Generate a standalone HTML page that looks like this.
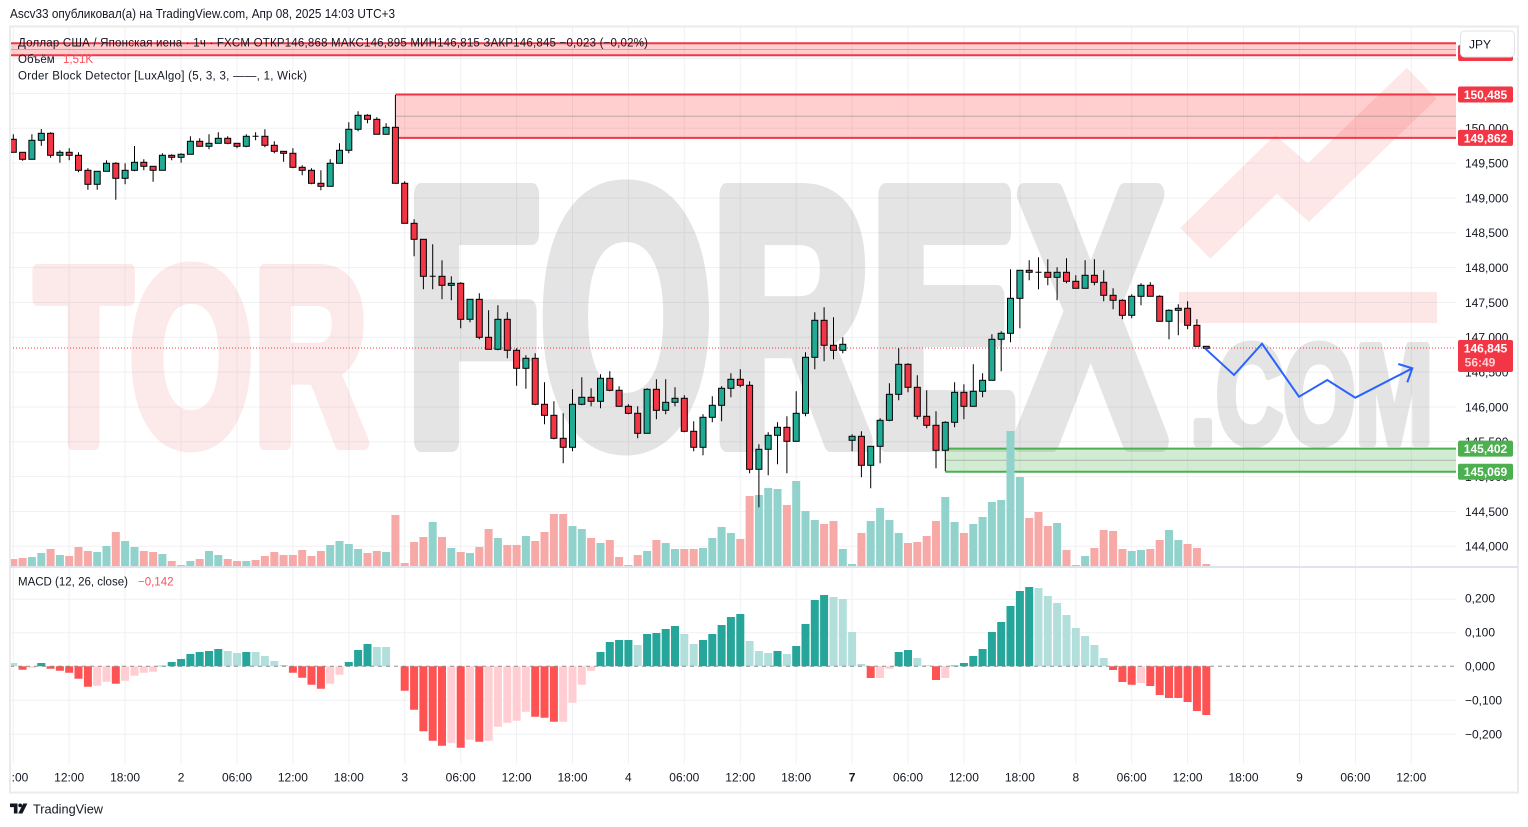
<!DOCTYPE html>
<html><head><meta charset="utf-8"><style>
html,body{margin:0;padding:0;background:#fff;}
svg{display:block;font-family:"Liberation Sans","DejaVu Sans",sans-serif;}
.ax{font-size:12px;fill:#131722;}
.tl{font-size:12px;fill:#131722;text-anchor:middle;}
.lb{font-size:12px;font-weight:bold;fill:#fff;text-anchor:middle;}
.cr{fill:#f23645;}
.cg{fill:#22ab94;}
</style></head><body>
<svg width="1528" height="827" viewBox="0 0 1528 827" xmlns="http://www.w3.org/2000/svg">
<defs><clipPath id="cp"><rect x="10" y="27" width="1446" height="540"/></clipPath>
<clipPath id="cm"><rect x="10" y="568" width="1446" height="196"/></clipPath>
<clipPath id="ct"><rect x="11.5" y="765" width="1506" height="27"/></clipPath></defs>
<rect width="1528" height="827" fill="#fff"/>
<text x="10" y="18" font-size="12.5" fill="#131722" textLength="385" lengthAdjust="spacingAndGlyphs">Ascv33 опубликовал(а) на TradingView.com, Апр 08, 2025 14:03 UTC+3</text>

<!-- grid -->
<g stroke="#f0f1f4" stroke-width="1">
<path d="M10 58.6H1456M10 93.5H1456M10 128.3H1456M10 163.1H1456M10 198H1456M10 232.8H1456M10 267.6H1456M10 302.5H1456M10 337.3H1456M10 372.1H1456M10 407H1456M10 441.8H1456M10 476.6H1456M10 511.5H1456M10 546.3H1456"/>
<path d="M10 599.3H1456M10 632.7H1456M10 700.3H1456M10 734.3H1456"/>
<path d="M13.3 27V764M69.2 27V764M125.1 27V764M181.1 27V764M237 27V764M292.9 27V764M348.8 27V764M404.7 27V764M460.7 27V764M516.6 27V764M572.5 27V764M628.4 27V764M684.3 27V764M740.3 27V764M796.2 27V764M852.1 27V764M908 27V764M963.9 27V764M1019.9 27V764M1075.8 27V764M1131.7 27V764M1187.6 27V764M1243.5 27V764M1299.5 27V764M1355.4 27V764M1411.3 27V764"/>
</g>

<!-- watermark -->
<g clip-path="url(#cp)" font-weight="bold">
<g opacity="0.1">
<text x="35" y="443" font-size="250" fill="#e63c3c" stroke="#e63c3c" stroke-width="14" stroke-linejoin="round" textLength="333" lengthAdjust="spacingAndGlyphs">TOR</text>
</g>
<g opacity="0.1">
<text x="406" y="441" font-size="359" fill="#000" stroke="#000" stroke-width="22" stroke-linejoin="round" textLength="758" lengthAdjust="spacingAndGlyphs">FOREX</text>
<text x="1190" y="443" font-size="141" fill="#000" stroke="#000" stroke-width="8" stroke-linejoin="round" textLength="243" lengthAdjust="spacingAndGlyphs">.COM</text>
</g>
<g opacity="0.12">
<polyline points="1195.3,243.3 1276,164.3 1308.3,192.7 1421.7,83.3" fill="none" stroke="#eb3c3c" stroke-width="43" stroke-linejoin="miter" stroke-miterlimit="4"/>
<rect x="1179" y="292" width="258" height="31" fill="#eb3c3c"/>
</g>
</g>

<!-- order blocks -->
<g clip-path="url(#cp)">
<rect x="10" y="43.3" width="1446" height="12" fill="rgba(255,59,59,0.25)"/>
<path d="M10 49.5H1456" stroke="rgba(120,120,120,0.45)" stroke-width="1"/>
<path d="M10 43.3H1456M10 55.3H1456" stroke="#f23645" stroke-width="2"/>
<rect x="395.4" y="94.5" width="1060.6" height="43.4" fill="rgba(255,59,59,0.25)"/>
<path d="M395.4 116.2H1456" stroke="rgba(120,120,120,0.45)" stroke-width="1"/>
<path d="M395.4 94.5H1456M395.4 137.9H1456" stroke="#f23645" stroke-width="2"/>
<rect x="945.3" y="448.6" width="510.7" height="23.2" fill="rgba(76,175,80,0.25)"/>
<path d="M945.3 460.2H1456" stroke="rgba(120,120,120,0.45)" stroke-width="1"/>
<path d="M945.3 448.6H1456M945.3 471.8H1456" stroke="#4caf50" stroke-width="2"/>
</g>

<!-- volume -->
<g clip-path="url(#cp)">
<path fill="#f7a9a7" d="M9.3 559h8V566h-8zM18.6 558h8V566h-8zM46.6 549h8V566h-8zM65.2 556h8V566h-8zM74.5 547h8V566h-8zM83.9 551h8V566h-8zM111.8 532h8V566h-8zM139.8 551h8V566h-8zM149.1 552h8V566h-8zM167.7 561h8V566h-8zM195.7 559h8V566h-8zM223.7 559h8V566h-8zM233 561h8V566h-8zM251.6 560h8V566h-8zM260.9 556h8V566h-8zM270.3 552h8V566h-8zM279.6 555h8V566h-8zM288.9 555h8V566h-8zM298.2 550h8V566h-8zM307.5 556h8V566h-8zM316.9 551h8V566h-8zM363.5 553h8V566h-8zM372.8 551h8V566h-8zM391.4 515h8V566h-8zM400.7 563h8V566h-8zM410.1 542h8V566h-8zM419.4 537h8V566h-8zM438 537h8V566h-8zM456.7 552h8V566h-8zM475.3 547h8V566h-8zM484.6 529h8V566h-8zM503.3 545h8V566h-8zM512.6 545h8V566h-8zM531.2 541h8V566h-8zM540.5 532h8V566h-8zM549.9 514h8V566h-8zM559.2 514h8V566h-8zM587.1 538h8V566h-8zM605.8 540h8V566h-8zM615.1 557h8V566h-8zM624.4 565h8V566h-8zM633.7 555h8V566h-8zM652.4 540h8V566h-8zM680.3 549h8V566h-8zM689.7 549h8V566h-8zM736.3 539h8V566h-8zM745.6 496h8V566h-8zM782.9 505h8V566h-8zM820.1 524h8V566h-8zM829.5 521h8V566h-8zM857.4 533h8V566h-8zM904 543h8V566h-8zM913.3 542h8V566h-8zM922.7 536h8V566h-8zM932 521h8V566h-8zM959.9 533h8V566h-8zM1025.2 518h8V566h-8zM1034.5 512h8V566h-8zM1043.8 526h8V566h-8zM1062.5 550h8V566h-8zM1071.8 565h8V566h-8zM1090.4 548h8V566h-8zM1099.7 530h8V566h-8zM1109.1 531h8V566h-8zM1118.4 549h8V566h-8zM1146.3 549h8V566h-8zM1155.7 540h8V566h-8zM1183.6 544h8V566h-8zM1192.9 548h8V566h-8zM1202.3 564h8V566h-8z"/>
<path fill="#92d2cc" d="M27.9 557h8V566h-8zM37.3 553h8V566h-8zM55.9 555h8V566h-8zM93.2 552h8V566h-8zM102.5 546h8V566h-8zM121.1 541h8V566h-8zM130.5 547h8V566h-8zM158.4 554h8V566h-8zM177.1 565h8V566h-8zM186.4 561h8V566h-8zM205 551h8V566h-8zM214.3 555h8V566h-8zM242.3 561h8V566h-8zM326.2 545h8V566h-8zM335.5 541h8V566h-8zM344.8 544h8V566h-8zM354.1 549h8V566h-8zM382.1 552h8V566h-8zM428.7 522h8V566h-8zM447.3 548h8V566h-8zM466 553h8V566h-8zM493.9 538h8V566h-8zM521.9 536h8V566h-8zM568.5 526h8V566h-8zM577.8 529h8V566h-8zM596.5 543h8V566h-8zM643.1 551h8V566h-8zM661.7 543h8V566h-8zM671 549h8V566h-8zM699 548h8V566h-8zM708.3 538h8V566h-8zM717.6 527h8V566h-8zM726.9 533h8V566h-8zM754.9 495h8V566h-8zM764.2 488h8V566h-8zM773.5 489h8V566h-8zM792.2 481h8V566h-8zM801.5 511h8V566h-8zM810.8 520h8V566h-8zM838.8 549h8V566h-8zM848.1 564h8V566h-8zM866.7 521h8V566h-8zM876.1 508h8V566h-8zM885.4 520h8V566h-8zM894.7 533h8V566h-8zM941.3 497h8V566h-8zM950.6 522h8V566h-8zM969.3 524h8V566h-8zM978.6 517h8V566h-8zM987.9 502h8V566h-8zM997.2 500h8V566h-8zM1006.5 431h8V566h-8zM1015.9 477h8V566h-8zM1053.1 523h8V566h-8zM1081.1 556h8V566h-8zM1127.7 551h8V566h-8zM1137 550h8V566h-8zM1165 530h8V566h-8zM1174.3 540h8V566h-8z"/>
</g>

<!-- current price line -->
<path d="M10 348H1456" stroke="#f23645" stroke-width="1" stroke-dasharray="1 2"/>

<!-- candles -->
<g clip-path="url(#cp)">
<path fill="none" stroke="#000" stroke-width="1" d="M13.3 134.3V152.3M22.6 152.3V160.7M31.9 134.3V159.3M41.3 129V145.7M50.6 132.3V157.7M59.9 150.3V162.7M69.2 148.3V160.3M78.5 152.3V172.3M87.9 168.3V189.7M97.2 171.3V189.7M106.5 160.3V171.3M115.8 162.3V199.7M125.1 163.3V184.3M134.5 146V171.3M143.8 159.3V170.3M153.1 166.3V181.7M162.4 153.3V170.3M171.7 154.3V160.3M181.1 153.3V162.7M190.4 136.3V154.3M199.7 138.3V146.3M209 134.3V149.3M218.3 132.3V143.3M227.7 136.3V144.3M237 143.3V148.3M246.3 134.3V147.3M255.6 132.3V140.3M252.6 136.3h6M264.9 129.3V147.3M274.3 141.3V153.3M283.6 151.3V161.7M292.9 148.3V168.3M302.2 165.3V175.3M311.5 168.3V184.3M320.9 170.3V190.3M330.2 159.3V186.3M339.5 143.3V163.3M348.8 122.3V153.3M358.1 111.3V131.3M367.5 114.3V123.3M376.8 117.3V134.3M386.1 123.3V134.3M395.4 95V183.3M404.7 181.3V223.3M414.1 219.3V256.3M423.4 239.3V289.3M432.7 244.3V289.3M429.7 276.3h6M442 260.3V299.3M451.3 276.3V300.3M460.7 282.3V328.3M470 299.3V322.3M479.3 293.3V339.3M488.6 310.3V349.3M497.9 305.3V350.3M507.3 312.3V358.3M516.6 348.3V385.7M525.9 355.3V388.7M535.2 353.3V405.3M544.5 382.3V424.3M553.9 401.3V439.3M563.2 413.3V463.3M572.5 389.3V451.3M581.8 377.3V405.3M591.1 388.3V406.3M600.5 374.3V408.3M609.8 371.3V391.3M619.1 386.3V406.3M628.4 404.3V414.3M637.7 406.3V438.3M647.1 388.3V433.3M656.4 379.3V419.3M665.7 379.3V414.3M675 387.3V406.3M684.3 395.3V432.3M693.7 421.3V451.3M703 414.3V455.3M712.3 396.3V422.3M721.6 386.3V421.3M730.9 373.3V397.3M740.3 369.3V387.3M749.6 381.3V473.3M758.9 444.3V507.3M768.2 432.3V475.3M777.5 422.3V464.3M786.9 416.3V473.3M796.2 391.3V441.3M805.5 352.3V416.3M814.8 312.3V369.3M824.1 307.3V361.3M833.5 317.3V359.3M842.8 337.3V353.3M852.1 434.3V451.3M861.4 431.3V477.3M870.7 446.3V488.3M880.1 418.3V463.3M889.4 383.3V421.3M898.7 348.3V400.3M908 363.3V392.3M917.3 375.3V419.3M926.7 390.3V428.3M936 411.3V468.3M945.3 421.3V471.3M954.6 382.3V427.3M963.9 384.3V419.3M973.3 364.3V406.3M982.6 373.3V397.3M991.9 334.3V380.3M1001.2 331.3V371.3M1010.5 269.3V342.3M1019.9 270.3V328.3M1029.2 260.3V280.3M1038.5 257.3V289.3M1035.5 272.3h6M1047.8 259.3V285.3M1057.1 267.3V300.3M1066.5 258.3V283.3M1075.8 275.3V288.3M1085.1 260.3V288.3M1094.4 259.3V285.3M1103.7 270.3V301.3M1113.1 288.3V309.3M1122.4 299.3V319.3M1131.7 294.3V318.3M1141 283.3V305.3M1150.3 282.3V296.3M1159.7 295.3V321.3M1169 309.3V339.3M1178.3 304.3V335.3M1187.6 301.3V329.3M1196.9 319.3V346.3M1206.3 346.3V348.3M1203.3 347.3h6"/>
<g stroke="#000" stroke-width="1">
<g class="cr">
<rect x="10.3" y="139.3" width="6" height="13"/><rect x="19.6" y="152.3" width="6" height="7"/><rect x="47.6" y="133.3" width="6" height="22"/><rect x="66.2" y="152.3" width="6" height="3"/><rect x="75.5" y="155.3" width="6" height="15"/><rect x="84.9" y="170.3" width="6" height="14"/><rect x="112.8" y="163.3" width="6" height="15"/><rect x="140.8" y="162.3" width="6" height="4"/><rect x="150.1" y="166.3" width="6" height="4"/><rect x="168.7" y="155.3" width="6" height="2"/><rect x="196.7" y="141.3" width="6" height="5"/><rect x="224.7" y="138.3" width="6" height="5"/><rect x="234" y="143.3" width="6" height="3"/><rect x="261.9" y="136.3" width="6" height="9"/><rect x="271.3" y="145.3" width="6" height="6"/><rect x="280.6" y="151.3" width="6" height="2"/><rect x="289.9" y="153.3" width="6" height="14"/><rect x="299.2" y="167.3" width="6" height="3"/><rect x="308.5" y="170.3" width="6" height="13"/><rect x="317.9" y="183.3" width="6" height="3"/><rect x="364.5" y="115.3" width="6" height="4"/><rect x="373.8" y="119.3" width="6" height="15"/><rect x="392.4" y="127.3" width="6" height="56"/><rect x="401.7" y="183.3" width="6" height="40"/><rect x="411.1" y="223.3" width="6" height="16"/><rect x="420.4" y="239.3" width="6" height="37"/><rect x="439" y="276.3" width="6" height="9"/><rect x="457.7" y="283.3" width="6" height="36"/><rect x="476.3" y="299.3" width="6" height="38"/><rect x="485.6" y="337.3" width="6" height="12"/><rect x="504.3" y="319.3" width="6" height="31"/><rect x="513.6" y="350.3" width="6" height="18"/><rect x="532.2" y="358.3" width="6" height="46"/><rect x="541.5" y="404.3" width="6" height="11"/><rect x="550.9" y="415.3" width="6" height="23"/><rect x="560.2" y="438.3" width="6" height="9"/><rect x="588.1" y="397.3" width="6" height="4"/><rect x="606.8" y="378.3" width="6" height="12"/><rect x="616.1" y="390.3" width="6" height="16"/><rect x="625.4" y="406.3" width="6" height="7"/><rect x="634.7" y="413.3" width="6" height="20"/><rect x="653.4" y="389.3" width="6" height="21"/><rect x="681.3" y="398.3" width="6" height="33"/><rect x="690.7" y="431.3" width="6" height="16"/><rect x="737.3" y="379.3" width="6" height="6"/><rect x="746.6" y="385.3" width="6" height="84"/><rect x="783.9" y="427.3" width="6" height="14"/><rect x="821.1" y="320.3" width="6" height="25"/><rect x="830.5" y="345.3" width="6" height="5"/><rect x="858.4" y="436.3" width="6" height="29"/><rect x="905" y="364.3" width="6" height="23"/><rect x="914.3" y="387.3" width="6" height="29"/><rect x="923.7" y="416.3" width="6" height="9"/><rect x="933" y="425.3" width="6" height="25"/><rect x="960.9" y="392.3" width="6" height="14"/><rect x="1026.2" y="270.3" width="6" height="2"/><rect x="1044.8" y="272.3" width="6" height="5"/><rect x="1063.5" y="272.3" width="6" height="9"/><rect x="1072.8" y="281.3" width="6" height="7"/><rect x="1091.4" y="275.3" width="6" height="7"/><rect x="1100.7" y="282.3" width="6" height="13"/><rect x="1110.1" y="295.3" width="6" height="5"/><rect x="1119.4" y="300.3" width="6" height="15"/><rect x="1147.3" y="285.3" width="6" height="11"/><rect x="1156.7" y="296.3" width="6" height="25"/><rect x="1184.6" y="308.3" width="6" height="17"/><rect x="1193.9" y="325.3" width="6" height="21"/><rect x="1203.3" y="346.3" width="6" height="2"/>
</g>
<g class="cg">
<rect x="28.9" y="140.3" width="6" height="19"/><rect x="38.3" y="133.3" width="6" height="7"/><rect x="56.9" y="152.3" width="6" height="3"/><rect x="94.2" y="171.3" width="6" height="13"/><rect x="103.5" y="163.3" width="6" height="8"/><rect x="122.1" y="170.3" width="6" height="8"/><rect x="131.5" y="162.3" width="6" height="8"/><rect x="159.4" y="155.3" width="6" height="15"/><rect x="178.1" y="154.3" width="6" height="3"/><rect x="187.4" y="141.3" width="6" height="13"/><rect x="206" y="143.3" width="6" height="3"/><rect x="215.3" y="138.3" width="6" height="5"/><rect x="243.3" y="136.3" width="6" height="10"/><rect x="327.2" y="163.3" width="6" height="23"/><rect x="336.5" y="150.3" width="6" height="13"/><rect x="345.8" y="129.3" width="6" height="21"/><rect x="355.1" y="115.3" width="6" height="14"/><rect x="383.1" y="127.3" width="6" height="7"/><rect x="448.3" y="283.3" width="6" height="2"/><rect x="467" y="299.3" width="6" height="20"/><rect x="494.9" y="319.3" width="6" height="30"/><rect x="522.9" y="358.3" width="6" height="10"/><rect x="569.5" y="404.3" width="6" height="43"/><rect x="578.8" y="397.3" width="6" height="7"/><rect x="597.5" y="378.3" width="6" height="23"/><rect x="644.1" y="389.3" width="6" height="44"/><rect x="662.7" y="402.3" width="6" height="8"/><rect x="672" y="398.3" width="6" height="4"/><rect x="700" y="417.3" width="6" height="30"/><rect x="709.3" y="405.3" width="6" height="12"/><rect x="718.6" y="388.3" width="6" height="17"/><rect x="727.9" y="379.3" width="6" height="9"/><rect x="755.9" y="449.3" width="6" height="20"/><rect x="765.2" y="435.3" width="6" height="14"/><rect x="774.5" y="427.3" width="6" height="8"/><rect x="793.2" y="413.3" width="6" height="28"/><rect x="802.5" y="357.3" width="6" height="56"/><rect x="811.8" y="320.3" width="6" height="37"/><rect x="839.8" y="344.3" width="6" height="6"/><rect x="849.1" y="436.3" width="6" height="4"/><rect x="867.7" y="446.3" width="6" height="19"/><rect x="877.1" y="420.3" width="6" height="26"/><rect x="886.4" y="394.3" width="6" height="26"/><rect x="895.7" y="364.3" width="6" height="30"/><rect x="942.3" y="422.3" width="6" height="28"/><rect x="951.6" y="392.3" width="6" height="30"/><rect x="970.3" y="391.3" width="6" height="15"/><rect x="979.6" y="380.3" width="6" height="11"/><rect x="988.9" y="339.3" width="6" height="41"/><rect x="998.2" y="333.3" width="6" height="6"/><rect x="1007.5" y="298.3" width="6" height="35"/><rect x="1016.9" y="270.3" width="6" height="28"/><rect x="1054.1" y="272.3" width="6" height="5"/><rect x="1082.1" y="275.3" width="6" height="13"/><rect x="1128.7" y="296.3" width="6" height="19"/><rect x="1138" y="285.3" width="6" height="11"/><rect x="1166" y="310.3" width="6" height="11"/><rect x="1175.3" y="308.3" width="6" height="2"/>
</g>
</g>
</g>

<!-- blue projection -->
<polyline points="1205,348.3 1234,375 1262,343.7 1299,396.7 1327.3,380 1355.3,397.7 1412.3,368.3" fill="none" stroke="#2962ff" stroke-width="2" stroke-linejoin="miter"/>
<path d="M1398.3 364L1412.3 368.3L1407.3 382.3" fill="none" stroke="#2962ff" stroke-width="2"/>

<!-- legend -->
<text x="18" y="46.5" font-size="11.5" fill="#131722" textLength="630" lengthAdjust="spacing">Доллар США / Японская иена · 1ч · FXCM  ОТКР146,868  МАКС146,895  МИН146,815  ЗАКР146,845  −0,023 (−0,02%)</text>
<text x="18" y="63" font-size="11.5" fill="#131722">Объём</text>
<text x="63" y="63" font-size="11.5" fill="#f7525f">1,51K</text>
<text x="18" y="79.5" font-size="11.5" fill="#131722" textLength="289" lengthAdjust="spacing">Order Block Detector [LuxAlgo] (5, 3, 3, ——, 1, Wick)</text>

<!-- MACD -->
<g clip-path="url(#cm)">
<path fill="#26a69a" d="M37.3 663h8V666.3h-8zM158.4 665.7h8V666.3h-8zM167.7 662h8V666.3h-8zM177.1 659h8V666.3h-8zM186.4 654h8V666.3h-8zM195.7 652h8V666.3h-8zM205 651h8V666.3h-8zM214.3 649h8V666.3h-8zM242.3 652h8V666.3h-8zM344.8 662h8V666.3h-8zM354.1 650h8V666.3h-8zM363.5 644h8V666.3h-8zM596.5 652h8V666.3h-8zM605.8 642h8V666.3h-8zM615.1 640h8V666.3h-8zM624.4 640h8V666.3h-8zM643.1 634h8V666.3h-8zM652.4 633h8V666.3h-8zM661.7 629h8V666.3h-8zM671 626h8V666.3h-8zM699 640h8V666.3h-8zM708.3 634h8V666.3h-8zM717.6 625h8V666.3h-8zM726.9 617h8V666.3h-8zM736.3 614h8V666.3h-8zM773.5 651h8V666.3h-8zM792.2 646h8V666.3h-8zM801.5 624h8V666.3h-8zM810.8 600h8V666.3h-8zM820.1 595h8V666.3h-8zM894.7 652h8V666.3h-8zM904 650h8V666.3h-8zM950.6 665.5h8V666.3h-8zM959.9 663h8V666.3h-8zM969.3 656h8V666.3h-8zM978.6 649h8V666.3h-8zM987.9 632h8V666.3h-8zM997.2 622h8V666.3h-8zM1006.5 606h8V666.3h-8zM1015.9 591h8V666.3h-8zM1025.2 587h8V666.3h-8z"/>
<path fill="#b2dfdb" d="M9.3 663h8V666.3h-8zM223.7 651h8V666.3h-8zM233 653h8V666.3h-8zM251.6 652h8V666.3h-8zM260.9 656h8V666.3h-8zM270.3 661h8V666.3h-8zM279.6 665h8V666.3h-8zM372.8 647h8V666.3h-8zM382.1 647h8V666.3h-8zM633.7 645h8V666.3h-8zM680.3 634h8V666.3h-8zM689.7 644h8V666.3h-8zM745.6 641h8V666.3h-8zM754.9 651h8V666.3h-8zM764.2 653h8V666.3h-8zM782.9 654h8V666.3h-8zM829.5 597h8V666.3h-8zM838.8 599h8V666.3h-8zM848.1 632h8V666.3h-8zM857.4 664h8V666.3h-8zM913.3 658h8V666.3h-8zM922.7 665.3h8V666.3h-8zM1034.5 588h8V666.3h-8zM1043.8 596h8V666.3h-8zM1053.1 603h8V666.3h-8zM1062.5 615h8V666.3h-8zM1071.8 628h8V666.3h-8zM1081.1 636h8V666.3h-8zM1090.4 645h8V666.3h-8zM1099.7 658h8V666.3h-8z"/>
<path fill="#ff5252" d="M18.6 669.7h8V666.3h-8zM46.6 668.7h8V666.3h-8zM55.9 670.7h8V666.3h-8zM65.2 672.7h8V666.3h-8zM74.5 678.7h8V666.3h-8zM83.9 686.7h8V666.3h-8zM111.8 683.7h8V666.3h-8zM288.9 672.7h8V666.3h-8zM298.2 677.7h8V666.3h-8zM307.5 684.7h8V666.3h-8zM316.9 688.7h8V666.3h-8zM400.7 690.7h8V666.3h-8zM410.1 709.7h8V666.3h-8zM419.4 731.3h8V666.3h-8zM428.7 740.7h8V666.3h-8zM438 745.7h8V666.3h-8zM456.7 747.7h8V666.3h-8zM475.3 741.7h8V666.3h-8zM531.2 716.7h8V666.3h-8zM540.5 717.7h8V666.3h-8zM549.9 721.7h8V666.3h-8zM866.7 678h8V666.3h-8zM932 680h8V666.3h-8zM1109.1 670h8V666.3h-8zM1118.4 682h8V666.3h-8zM1127.7 684.7h8V666.3h-8zM1146.3 686h8V666.3h-8zM1155.7 695h8V666.3h-8zM1165 698h8V666.3h-8zM1174.3 698h8V666.3h-8zM1183.6 702h8V666.3h-8zM1192.9 711h8V666.3h-8zM1202.3 715h8V666.3h-8z"/>
<path fill="#ffcdd2" d="M27.9 667.7h8V666.3h-8zM93.2 685.7h8V666.3h-8zM102.5 681.7h8V666.3h-8zM121.1 680.7h8V666.3h-8zM130.5 675.7h8V666.3h-8zM139.8 672.7h8V666.3h-8zM149.1 671.7h8V666.3h-8zM326.2 683.7h8V666.3h-8zM335.5 674.7h8V666.3h-8zM447.3 742.7h8V666.3h-8zM466 739.7h8V666.3h-8zM484.6 740.7h8V666.3h-8zM493.9 726.7h8V666.3h-8zM503.3 722.7h8V666.3h-8zM512.6 720.7h8V666.3h-8zM521.9 711.7h8V666.3h-8zM559.2 721.7h8V666.3h-8zM568.5 702.7h8V666.3h-8zM577.8 684.7h8V666.3h-8zM587.1 670.7h8V666.3h-8zM876.1 678h8V666.3h-8zM885.4 668.7h8V666.3h-8zM941.3 678h8V666.3h-8zM1137 683h8V666.3h-8z"/>
<path d="M10 666.3H1456" stroke="rgba(120,123,134,0.6)" stroke-width="1.3" stroke-dasharray="4 4"/>
</g>
<text x="18" y="585.5" font-size="11.5" fill="#131722">MACD (12, 26, close)</text>
<text x="138" y="585.5" font-size="11.5" fill="#f7525f">−0,142</text>

<!-- frame -->
<rect x="10" y="26.5" width="1508" height="766" fill="none" stroke="#ebebeb" stroke-width="2"/>
<path d="M10 567H1518" stroke="#e0e3eb" stroke-width="2"/>

<!-- price axis -->
<g class="ax">
<text x="1465" y="132.6">150,000</text>
<text x="1465" y="167.4">149,500</text>
<text x="1465" y="202.3">149,000</text>
<text x="1465" y="237.1">148,500</text>
<text x="1465" y="271.9">148,000</text>
<text x="1465" y="306.8">147,500</text>
<text x="1465" y="341.6">147,000</text>
<text x="1465" y="376.4">146,500</text>
<text x="1465" y="411.3">146,000</text>
<text x="1465" y="446.1">145,500</text>
<text x="1465" y="480.9">145,000</text>
<text x="1465" y="515.8">144,500</text>
<text x="1465" y="550.6">144,000</text>
<text x="1465" y="602.6">0,200</text>
<text x="1465" y="636.5">0,100</text>
<text x="1465" y="670.6">0,000</text>
<text x="1465" y="704.6">−0,100</text>
<text x="1465" y="738.6">−0,200</text>
</g>
<rect x="1458" y="45" width="55" height="16" rx="2" fill="#f23645"/>
<rect x="1458" y="86.5" width="55" height="16" rx="2" fill="#f23645"/>
<text class="lb" x="1485.5" y="99">150,485</text>
<rect x="1458" y="129.9" width="55" height="16" rx="2" fill="#f23645"/>
<text class="lb" x="1485.5" y="142.4">149,862</text>
<rect x="1458" y="340" width="55" height="32" rx="2" fill="#f23645"/>
<text class="lb" x="1485.5" y="352.5">146,845</text>
<text x="1480" y="366.5" font-size="12" font-weight="bold" fill="#fbd0d3" text-anchor="middle">56:49</text>
<rect x="1458" y="440.6" width="55" height="16" rx="2" fill="#4caf50"/>
<text class="lb" x="1485.5" y="453">145,402</text>
<rect x="1458" y="463.8" width="55" height="16" rx="2" fill="#4caf50"/>
<text class="lb" x="1485.5" y="476.2">145,069</text>
<rect x="1460.5" y="31" width="54" height="26" rx="4" fill="#fff" stroke="#e0e3eb"/>
<text x="1469" y="48.5" font-size="12" fill="#131722">JPY</text>

<!-- time axis -->
<g class="tl" clip-path="url(#ct)">
<text x="13.3" y="781.5">06:00</text>
<text x="69.2" y="781.5">12:00</text>
<text x="125.1" y="781.5">18:00</text>
<text x="181.1" y="781.5">2</text>
<text x="237" y="781.5">06:00</text>
<text x="292.9" y="781.5">12:00</text>
<text x="348.8" y="781.5">18:00</text>
<text x="404.7" y="781.5">3</text>
<text x="460.7" y="781.5">06:00</text>
<text x="516.6" y="781.5">12:00</text>
<text x="572.5" y="781.5">18:00</text>
<text x="628.4" y="781.5">4</text>
<text x="684.3" y="781.5">06:00</text>
<text x="740.3" y="781.5">12:00</text>
<text x="796.2" y="781.5">18:00</text>
<text x="852.1" y="781.5" font-weight="bold">7</text>
<text x="908" y="781.5">06:00</text>
<text x="963.9" y="781.5">12:00</text>
<text x="1019.9" y="781.5">18:00</text>
<text x="1075.8" y="781.5">8</text>
<text x="1131.7" y="781.5">06:00</text>
<text x="1187.6" y="781.5">12:00</text>
<text x="1243.5" y="781.5">18:00</text>
<text x="1299.5" y="781.5">9</text>
<text x="1355.4" y="781.5">06:00</text>
<text x="1411.3" y="781.5">12:00</text>
</g>

<!-- footer logo -->
<path d="M10 803.5h7.5v10h-3.6v-6.4h-3.9z" fill="#131722"/>
<circle cx="20.2" cy="805.4" r="1.9" fill="#131722"/>
<path d="M23.2 803.5h4.2l-5 10h-4.2z" fill="#131722"/>
<text x="33" y="813.5" font-size="12.5" fill="#131722" textLength="70" lengthAdjust="spacingAndGlyphs">TradingView</text>
</svg>
</body></html>
